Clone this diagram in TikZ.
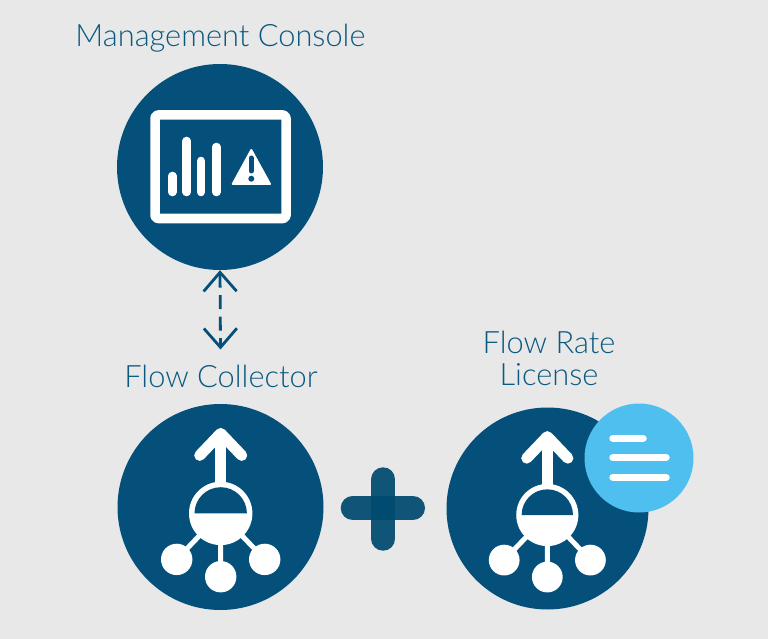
\documentclass[tikz,border=0pt]{standalone}
\usepackage{fontspec}
\setmainfont{Lato}[UprightFont=* Light]
\usetikzlibrary{arrows.meta}
\definecolor{bgc}{HTML}{E8E8E8}
\definecolor{navy}{HTML}{04507A}
\definecolor{plusc}{HTML}{004A70}
\definecolor{sky}{HTML}{4FBFF0}
\definecolor{labelc}{HTML}{0A5A80}
\tikzset{
  disc/.style={circle,fill=navy,inner sep=0pt,minimum size=#1},
  label text/.style={text=labelc,font=\fontsize{30.8}{36}\selectfont,inner sep=0pt,anchor=base},
  white line/.style={draw=white,line cap=round,line join=round},
  plus bar/.style={draw=plusc,opacity=.93,line width=24pt,line cap=round},
  link/.style={draw=navy,line width=2.8pt,dash pattern=on 14pt off 7.5pt,{Straight Barb[length=19pt,width=33pt,line width=2.8pt]}-{Straight Barb[length=19pt,width=33pt,line width=2.8pt]}},
  flow/.pic={
    \draw[white,line width=5pt] (0,0) -- (-44,46) (0,0) -- (0,63) (0,0) -- (44,46);
    \fill[white] (0,0) circle (31.7);
    \fill[navy] (-26.2,0) arc[start angle=180,end angle=360,radius=26.2] -- cycle;
    \draw[white,line width=11.5pt] (0,-76) -- (0,-28);
    \draw[white line,line width=11pt] (-21,-58) -- (0,-80) -- (21,-58);
    \fill[white] (-44,46) circle (15.7) (0,63.3) circle (15.7) (44,46) circle (15.7);
  }
}
\begin{document}
\begin{tikzpicture}[x=1pt,y=-1pt]
  \fill[bgc] (0,0) rectangle (768,639);
  \useasboundingbox (0,0) rectangle (768,639);

  % Management console
  \node[label text] (mc) at (220.5,47) {Management Console};
  \node[disc=206pt] (a) at (220,167) {};
  \draw[white line,line width=9.5pt,rounded corners=3pt] (155,115) rectangle (286,218.5);
  \foreach \x/\t in {172.3/172,186.7/137,201/157,216.3/143}
    \draw[white line,line width=8.6pt] (\x,\t+4) -- (\x,192);
  \fill[white,draw=white,line width=2pt,line join=round] (251.3,150) -- (270,184) -- (232.7,184) -- cycle;
  \draw[navy,line width=5pt,line cap=round] (251.3,158) -- (251.3,171);
  \fill[navy] (251.3,178.7) circle (3);

  % Link
  \coordinate (linkend) at (220.5,349.5);
  \path[link] (a.south) -- (linkend);

  % Flow collector
  \node[label text] (fc) at (221,387) {Flow Collector};
  \node[disc=206pt] (b) at (220.5,507) {};
  \pic at (220.7,513.4) {flow};

  % Plus
  \draw[plus bar] (352.7,508) -- (413,508);
  \draw[plus bar] (383.3,479.3) -- (383.3,538.7);

  % Flow rate license
  \node[label text] (fr) at (549,353) {Flow Rate};
  \node[label text] (lic) at (549,385) {License};
  \node[disc=202pt] (c) at (547.5,508.5) {};
  \pic[scale=.98] at (547.3,515) {flow};
  \node[circle,fill=sky,inner sep=0pt,minimum size=109pt] (d) at (639,458) {};
  \draw[white line,line width=7.5pt] (613,438.3) -- (643,438.3) (613,457.7) -- (666,457.7) (613,477.3) -- (666,477.3);
\end{tikzpicture}
\end{document}
